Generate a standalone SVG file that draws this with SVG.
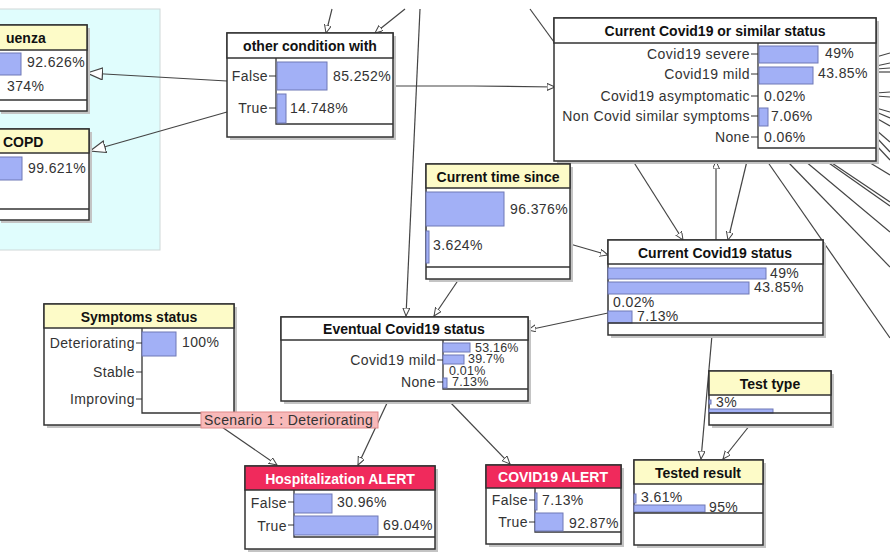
<svg xmlns="http://www.w3.org/2000/svg" width="890" height="552" viewBox="0 0 890 552">
<defs>
<style>
.bg{fill:#fff}
.panel{fill:#e0fdfd;stroke:#cfd8d8;stroke-width:1}
.sh{fill:#c4c4c4}
.box{fill:#fff;stroke:#333;stroke-width:1.5}
.hy{fill:#fdfbc8;stroke:#333;stroke-width:1.5}
.hw{fill:#fff;stroke:#333;stroke-width:1.5}
.hr{fill:#f02a5c;stroke:#333;stroke-width:1.5}
.t{font-family:"Liberation Sans",Arial,sans-serif;font-size:14px;font-weight:bold;fill:#111;text-anchor:middle}
.tl{text-anchor:start}
.tw{fill:#fff}
.l{font-family:"Liberation Sans",Arial,sans-serif;font-size:14px;letter-spacing:0.4px;fill:#333}
.s{font-size:12.5px;letter-spacing:0.2px}
.r{text-anchor:end}
.bar{fill:#a2b0f6;stroke:#6f78b6;stroke-width:1}
.ax{stroke:#333;stroke-width:1.3;fill:none}
.tk{stroke:#333;stroke-width:1;fill:none}
.e{stroke:#444;stroke-width:1.2;fill:none}
.ea{stroke:#444;stroke-width:1.2;fill:none;marker-end:url(#arr)}
.eb{stroke:#444;stroke-width:1.2;fill:none;marker-end:url(#big)}
.scn{fill:#f8b9b9;stroke:#e08a8a;stroke-width:1}
</style>
<marker id="arr" markerUnits="userSpaceOnUse" markerWidth="10" markerHeight="9" refX="8" refY="3.5" orient="auto">
<path d="M0,0 L8,3.5 L0,7 z" fill="#fff" stroke="#444" stroke-width="1"/>
</marker>
<marker id="big" markerUnits="userSpaceOnUse" markerWidth="18" markerHeight="15" refX="16" refY="6.5" orient="auto">
<path d="M0.5,0.5 L16,6.5 L0.5,12.5 z" fill="#fff" stroke="#444" stroke-width="1.2"/>
</marker>
</defs>
<rect class="bg" x="0" y="0" width="890" height="552"/>
<rect class="panel" x="-2" y="9" width="162" height="241"/>

<g id="connectors">
<path class="ea" d="M332,9 L326,33"/>
<path class="ea" d="M405,9 L375,33"/>
<path class="ea" d="M420,9 L406,316"/>
<path class="e" d="M530,9 L554,42"/>
<path class="eb" d="M227,81 L87,73"/>
<path class="eb" d="M227,112 L90,151"/>
<path class="ea" d="M393,86 L473,86 L555,87"/>
<path class="ea" d="M633,161 L683,240"/>
<path class="ea" d="M716,240 L716,161"/>
<path class="ea" d="M747,161 L728,240"/>
<path class="e" d="M767,161 L890,338"/>
<path class="e" d="M787,161 L890,267"/>
<path class="e" d="M805,161 L890,232"/>
<path class="e" d="M826,161 L890,206"/>
<path class="e" d="M829,161 L890,202"/>
<path class="e" d="M867,161 L890,175"/>
<path class="e" d="M876,57 L890,53"/>
<path class="e" d="M876,66 L890,63"/>
<path class="e" d="M876,69 L890,68"/>
<path class="e" d="M876,72 L890,72"/>
<path class="e" d="M876,93 L890,92"/>
<path class="e" d="M876,96 L890,97"/>
<path class="e" d="M876,108 L890,112"/>
<path class="e" d="M876,112 L890,118"/>
<path class="e" d="M876,118 L890,126"/>
<path class="e" d="M876,130 L890,142"/>
<path class="e" d="M876,137 L890,152"/>
<path class="e" d="M876,145 L890,160"/>
<path class="ea" d="M459,279 L434,316"/>
<path class="ea" d="M570,244 L608,255"/>
<path class="ea" d="M608,313 L528,330"/>
<path class="ea" d="M712,335 L701,459"/>
<path class="ea" d="M750,425 L723,459"/>
<path class="ea" d="M219,425 L277,465"/>
<path class="ea" d="M388,401 L358,465"/>
<path class="ea" d="M449,401 L510,464"/>
</g>

<g id="node-influenza">
<rect class="sh" x="1" y="28" width="89" height="86"/>
<rect class="box" x="-2" y="25" width="89" height="86"/>
<rect class="hy" x="-2" y="25" width="89" height="25"/>
<text class="t tl" x="6" y="43">uenza</text>
<rect class="bar" x="-1" y="53" width="22" height="22"/>
<text class="l" x="27" y="67">92.626%</text>
<text class="l" x="7" y="91">374%</text>
<path class="ax" d="M-2,100 L87,100"/>
</g>

<g id="node-copd">
<rect class="sh" x="1" y="132" width="91" height="91"/>
<rect class="box" x="-2" y="129" width="91" height="91"/>
<rect class="hy" x="-2" y="129" width="91" height="24"/>
<text class="t tl" x="3" y="147">COPD</text>
<rect class="bar" x="-1" y="157" width="23" height="23"/>
<text class="l" x="28" y="173">99.621%</text>
<path class="ax" d="M-2,209 L89,209"/>
</g>

<g id="node-other-condition">
<rect class="sh" x="230" y="36" width="166" height="104"/>
<rect class="box" x="227" y="33" width="166" height="104"/>
<rect class="hw" x="227" y="33" width="166" height="25"/>
<text class="t" x="310" y="51">other condition with</text>
<path class="ax" d="M276,58 L276,124 L393,124"/>
<rect class="bar" x="277" y="62" width="50" height="28"/>
<rect class="bar" x="277" y="94" width="9" height="29"/>
<path class="tk" d="M269,76 H276 M269,108 H276"/>
<text class="l r" x="268" y="81">False</text>
<text class="l r" x="268" y="113">True</text>
<text class="l" x="333" y="81">85.252%</text>
<text class="l" x="290" y="113">14.748%</text>
</g>

<g id="node-current-similar">
<rect class="sh" x="557" y="21" width="322" height="143"/>
<rect class="box" x="554" y="18" width="322" height="143"/>
<rect class="hw" x="554" y="18" width="322" height="25"/>
<text class="t" x="715" y="36">Current Covid19 or similar status</text>
<path class="ax" d="M758,43 L758,148 L876,148"/>
<rect class="bar" x="759" y="46" width="59" height="17"/>
<rect class="bar" x="759" y="67" width="54" height="17"/>
<rect class="bar" x="759" y="108" width="9" height="18"/>
<path class="tk" d="M751,54 H758 M751,74 H758 M751,96 H758 M751,116 H758 M751,137 H758"/>
<text class="l r" x="750" y="59">Covid19 severe</text>
<text class="l r" x="750" y="79">Covid19 mild</text>
<text class="l r" x="750" y="101">Covid19 asymptomatic</text>
<text class="l r" x="750" y="121">Non Covid similar symptoms</text>
<text class="l r" x="750" y="142">None</text>
<text class="l" x="825" y="58">49%</text>
<text class="l" x="818" y="78">43.85%</text>
<text class="l" x="764" y="101">0.02%</text>
<text class="l" x="771" y="121">7.06%</text>
<text class="l" x="764" y="142">0.06%</text>
</g>

<g id="node-current-time">
<rect class="sh" x="429" y="167" width="144" height="115"/>
<rect class="box" x="426" y="164" width="144" height="115"/>
<rect class="hy" x="426" y="164" width="144" height="24"/>
<text class="t" x="498" y="182">Current time since</text>
<rect class="bar" x="426" y="192" width="78" height="34"/>
<rect class="bar" x="426" y="231" width="3" height="32"/>
<text class="l" x="510" y="214">96.376%</text>
<text class="l" x="433" y="250">3.624%</text>
<path class="ax" d="M426,267 L570,267"/>
</g>

<g id="node-current-status">
<rect class="sh" x="611" y="243" width="215" height="95"/>
<rect class="box" x="608" y="240" width="215" height="95"/>
<rect class="hw" x="608" y="240" width="215" height="24"/>
<text class="t" x="715" y="258">Current Covid19 status</text>
<rect class="bar" x="608" y="268" width="158" height="11"/>
<rect class="bar" x="608" y="282" width="141" height="12"/>
<rect class="bar" x="608" y="311" width="24" height="12"/>
<text class="l" x="770" y="278">49%</text>
<text class="l" x="754" y="292">43.85%</text>
<text class="l" x="613" y="307">0.02%</text>
<text class="l" x="637" y="321">7.13%</text>
<path class="ax" d="M608,323 L823,323"/>
</g>

<g id="node-eventual">
<rect class="sh" x="284" y="320" width="247" height="84"/>
<rect class="box" x="281" y="317" width="247" height="84"/>
<rect class="hw" x="281" y="317" width="247" height="23"/>
<text class="t" x="404" y="334">Eventual Covid19 status</text>
<path class="ax" d="M443,340 L443,389 L528,389"/>
<rect class="bar" x="443" y="343" width="27" height="9"/>
<rect class="bar" x="443" y="355" width="21" height="9"/>
<rect class="bar" x="443" y="378" width="4" height="10"/>
<path class="tk" d="M437,360 H443 M437,382 H443"/>
<text class="l r" x="436" y="365">Covid19 mild</text>
<text class="l r" x="436" y="387">None</text>
<text class="l s" x="475" y="352">53.16%</text>
<text class="l s" x="468" y="363">39.7%</text>
<text class="l s" x="449" y="375">0.01%</text>
<text class="l s" x="452" y="386">7.13%</text>
</g>

<g id="node-symptoms">
<rect class="sh" x="47" y="307" width="190" height="121"/>
<rect class="box" x="44" y="304" width="190" height="121"/>
<rect class="hy" x="44" y="304" width="190" height="24"/>
<text class="t" x="139" y="322">Symptoms status</text>
<path class="ax" d="M142,328 L142,413 L234,413"/>
<rect class="bar" x="142" y="332" width="34" height="24"/>
<path class="tk" d="M136,343 H142 M136,372 H142 M136,399 H142"/>
<text class="l r" x="135" y="348">Deteriorating</text>
<text class="l r" x="135" y="377">Stable</text>
<text class="l r" x="135" y="404">Improving</text>
<text class="l" x="182" y="347">100%</text>
</g>

<g id="node-hospitalization">
<rect class="sh" x="248" y="469" width="190" height="83"/>
<rect class="box" x="245" y="466" width="190" height="83"/>
<rect class="hr" x="245" y="466" width="190" height="24"/>
<text class="t tw" x="340" y="484">Hospitalization ALERT</text>
<path class="ax" d="M294,490 L294,537 L435,537"/>
<rect class="bar" x="294" y="494" width="38" height="19"/>
<rect class="bar" x="294" y="516" width="84" height="19"/>
<path class="tk" d="M288,502 H294 M288,525 H294"/>
<text class="l r" x="287" y="508">False</text>
<text class="l r" x="287" y="531">True</text>
<text class="l" x="337" y="507">30.96%</text>
<text class="l" x="383" y="530">69.04%</text>
</g>

<g id="node-covid-alert">
<rect class="sh" x="489" y="468" width="135" height="79"/>
<rect class="box" x="486" y="465" width="135" height="79"/>
<rect class="hr" x="486" y="465" width="135" height="23"/>
<text class="t tw" x="553" y="482">COVID19 ALERT</text>
<path class="ax" d="M535,488 L535,532 L621,532"/>
<rect class="bar" x="535" y="493" width="2" height="17"/>
<rect class="bar" x="535" y="513" width="28" height="18"/>
<path class="tk" d="M529,500 H535 M529,522 H535"/>
<text class="l r" x="528" y="505">False</text>
<text class="l r" x="528" y="527">True</text>
<text class="l" x="542" y="505">7.13%</text>
<text class="l" x="569" y="528">92.87%</text>
</g>

<g id="node-test-type">
<rect class="sh" x="712" y="374" width="122" height="54"/>
<rect class="box" x="709" y="371" width="122" height="54"/>
<rect class="hy" x="709" y="371" width="122" height="24"/>
<text class="t" x="770" y="389">Test type</text>
<rect class="bar" x="709" y="400" width="2" height="4"/>
<text class="l" x="716" y="407">3%</text>
<rect class="bar" x="709" y="409" width="64" height="4"/>
<path class="ax" d="M709,413 L831,413"/>
</g>

<g id="node-tested-result">
<rect class="sh" x="637" y="463" width="129" height="85"/>
<rect class="box" x="634" y="460" width="129" height="85"/>
<rect class="hy" x="634" y="460" width="129" height="24"/>
<text class="t" x="698" y="478">Tested result</text>
<rect class="bar" x="634" y="494" width="2" height="9"/>
<text class="l" x="641" y="502">3.61%</text>
<rect class="bar" x="634" y="505" width="71" height="7"/>
<text class="l" x="709" y="512">95%</text>
<path class="ax" d="M634,513 L763,513"/>
</g>

<g id="scenario-label">
<rect class="scn" x="201" y="412" width="177" height="16"/>
<text class="l" x="204" y="425">Scenario 1 : Deteriorating</text>
</g>
</svg>
